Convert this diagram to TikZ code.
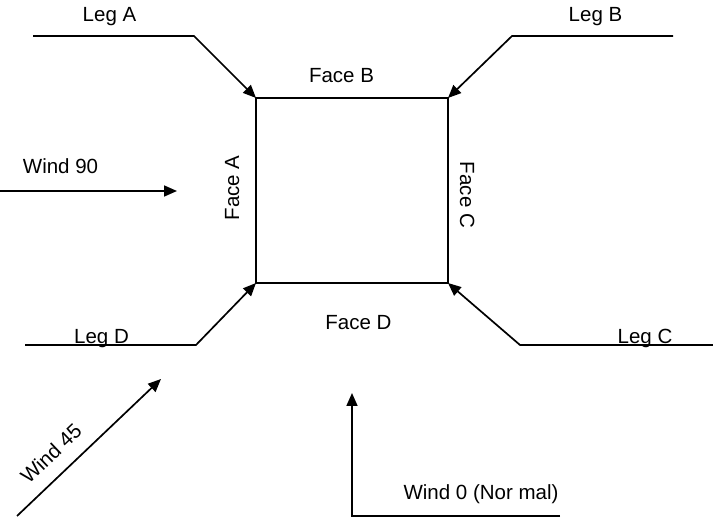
\documentclass[tikz,border=0pt]{standalone}
\usepackage{fontspec}
\setmainfont{Liberation Sans}
\usetikzlibrary{arrows.meta}
\begin{document}
\begin{tikzpicture}[x=1pt,y=-1pt,
  ln/.style={line width=1.7pt},
  arr/.style={line width=1.7pt,-{Triangle[length=13pt,width=11pt]}},
  lbl/.style={inner sep=0pt,anchor=base,font=\fontsize{20.5}{23}\selectfont}]
\useasboundingbox (0,0) rectangle (713,521);
% square corners
\coordinate (TL) at (256,98);
\coordinate (TR) at (448,98);
\coordinate (BR) at (448,283);
\coordinate (BL) at (256,283);
\draw[ln] (TL) -- (TR) -- (BR) -- (BL) -- cycle;
% legs
\coordinate (la0) at (33,36);  \coordinate (la1) at (194,36);
\coordinate (lb0) at (673,36); \coordinate (lb1) at (512,36);
\coordinate (ld0) at (25,345); \coordinate (ld1) at (196,345);
\coordinate (lc0) at (713,345);\coordinate (lc1) at (520,345);
\draw[arr] (la0) -- (la1) -- (TL);
\draw[arr] (lb0) -- (lb1) -- (TR);
\draw[arr] (ld0) -- (ld1) -- (BL);
\draw[arr] (lc0) -- (lc1) -- (BR);
% winds
\coordinate (w90a) at (0,191);   \coordinate (w90b) at (177,191);
\coordinate (w45a) at (17,516);  \coordinate (w45b) at (161,379);
\coordinate (w0a) at (560,516);  \coordinate (w0b) at (352,516); \coordinate (w0c) at (352,393);
\draw[arr] (w90a) -- (w90b);
\draw[arr] (w45a) -- (w45b);
\draw[arr] (w0a) -- (w0b) -- (w0c);
% labels
\node[lbl] (tLA) at (109.5,22) {Leg A};
\node[lbl] (tLB) at (595.5,22) {Leg B};
\node[lbl] (tFB) at (341.5,83) {Face B};
\node[lbl] (tW90) at (60.5,174) {Wind 90};
\node[lbl,rotate=90] (tFA) at (239,188) {Face A};
\node[lbl,rotate=-90] (tFC) at (460,195) {Face C};
\node[lbl] (tLD) at (101.5,344) {Leg D};
\node[lbl] (tLC) at (645,344) {Leg C};
\node[lbl] (tFD) at (358.5,330) {Face D};
\node[lbl] (tW0) at (481,500) {Wind 0 (Nor mal)};
\node[lbl,rotate=43.6] (tW45) at (56,459) {Wind 45};
\end{tikzpicture}
\end{document}
